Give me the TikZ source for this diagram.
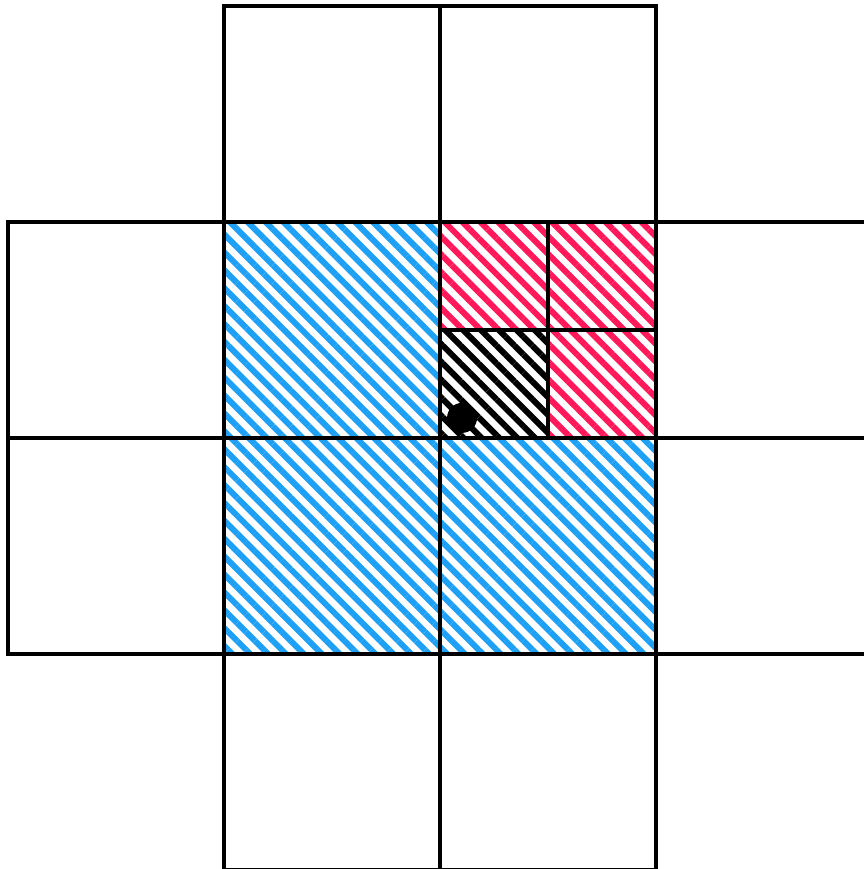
\documentclass[tikz,border=0pt]{standalone}
\usetikzlibrary{patterns.meta}

\definecolor{hatchblue}{RGB}{30,160,245}
\definecolor{hatchred}{RGB}{255,25,90}

\tikzset{
    gridline/.style={line width=0.045cm, line join=miter},
    hatched/.style={pattern={Lines[angle=-45, distance=3.6pt, line width=1.7pt]}, pattern color=#1},
}

\begin{document}
\begin{tikzpicture}[x=2.16cm, y=2.16cm]
    \useasboundingbox (-0.08cm,0.01cm) rectangle ++(8.64cm,8.69cm);
    \clip (-0.08cm,0.01cm) rectangle ++(8.64cm,8.69cm);
    \fill[white] (-0.08cm,0.01cm) rectangle ++(8.64cm,8.69cm);

    % Hatched regions (drawn first)
    \fill[hatched=hatchblue] (1,1) rectangle (2,3);
    \fill[hatched=hatchblue] (2,1) rectangle (3,2);
    \fill[hatched=hatchred] (2,2.5) rectangle (3,3);
    \fill[hatched=hatchred] (2.5,2) rectangle (3,2.5);
    \fill[hatched=black] (2,2) rectangle (2.5,2.5);

    % Grid cells
    \foreach \i/\j in {1/3, 2/3, 0/2, 1/2, 2/2, 3/2, 0/1, 1/1, 2/1, 3/1, 1/0, 2/0}
        \draw[gridline] (\i,\j) rectangle ++(1,1);

    % Subdivided cell
    \draw[gridline] (2.5,2) -- (2.5,3);
    \draw[gridline] (2,2.5) -- (3,2.5);

    % Point
    \fill (2.102,2.093) circle (0.15cm);
\end{tikzpicture}
\end{document}
